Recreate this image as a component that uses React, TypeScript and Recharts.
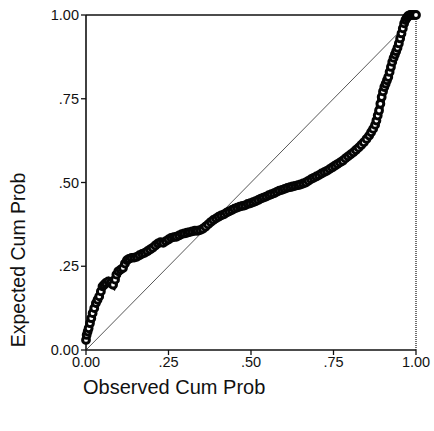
import { ScatterChart, Scatter, XAxis, YAxis, ReferenceLine } from "recharts";

const observed = [
  0.0, 0.002, 0.005, 0.008, 0.012, 0.016, 0.02, 0.025, 0.03, 0.035, 0.04, 0.045, 0.05, 0.055, 0.06, 0.068,
  0.075, 0.082, 0.088, 0.092, 0.098, 0.105, 0.112, 0.118, 0.124, 0.13, 0.138, 0.146, 0.154, 0.162, 0.17,
  0.178, 0.186, 0.194, 0.202, 0.21, 0.218, 0.226, 0.234, 0.242, 0.25, 0.258, 0.266, 0.274, 0.282, 0.29,
  0.298, 0.306, 0.314, 0.322, 0.33, 0.338, 0.346, 0.354, 0.362, 0.37, 0.378, 0.386, 0.394, 0.402, 0.41,
  0.418, 0.426, 0.434, 0.442, 0.45, 0.458, 0.466, 0.474, 0.482, 0.49, 0.498, 0.506, 0.514, 0.522, 0.53,
  0.538, 0.546, 0.554, 0.562, 0.57, 0.578, 0.586, 0.594, 0.602, 0.61, 0.618, 0.626, 0.634, 0.642, 0.65,
  0.658, 0.666, 0.674, 0.682, 0.69, 0.698, 0.706, 0.714, 0.722, 0.73, 0.738, 0.746, 0.754, 0.762, 0.77,
  0.778, 0.786, 0.794, 0.802, 0.81, 0.818, 0.826, 0.834, 0.842, 0.85, 0.858, 0.864, 0.87, 0.876, 0.88,
  0.884, 0.888, 0.892, 0.896, 0.9, 0.904, 0.908, 0.912, 0.916, 0.92, 0.924, 0.928, 0.932, 0.936, 0.94,
  0.944, 0.948, 0.952, 0.956, 0.96, 0.964, 0.968, 0.972, 0.976, 0.982, 0.988, 0.994, 1.0,
];

const expected = [
  0.03, 0.045, 0.055, 0.065, 0.08, 0.095, 0.11, 0.125, 0.14, 0.15, 0.16, 0.175, 0.19, 0.195, 0.2, 0.205,
  0.2, 0.195, 0.21, 0.225, 0.235, 0.24, 0.245, 0.258, 0.268, 0.272, 0.275, 0.276, 0.278, 0.283, 0.287,
  0.29, 0.295, 0.3, 0.305, 0.312, 0.318, 0.322, 0.32, 0.325, 0.33, 0.335, 0.337, 0.338, 0.342, 0.346,
  0.348, 0.35, 0.352, 0.354, 0.356, 0.356, 0.358, 0.362, 0.368, 0.375, 0.382, 0.388, 0.393, 0.398, 0.402,
  0.405, 0.41, 0.414, 0.418, 0.422, 0.425, 0.428, 0.43, 0.432, 0.436, 0.438, 0.441, 0.444, 0.448, 0.452,
  0.455, 0.458, 0.462, 0.465, 0.468, 0.472, 0.476, 0.478, 0.481, 0.484, 0.486, 0.488, 0.49, 0.492, 0.494,
  0.497, 0.5, 0.505, 0.51, 0.514, 0.518, 0.522, 0.527, 0.531, 0.535, 0.54, 0.545, 0.55, 0.555, 0.56,
  0.565, 0.572, 0.578, 0.584, 0.59, 0.597, 0.604, 0.612, 0.62, 0.63, 0.64, 0.65, 0.66, 0.672, 0.685,
  0.7, 0.715, 0.735, 0.755, 0.772, 0.785, 0.795, 0.805, 0.815, 0.83, 0.845, 0.86, 0.872, 0.882, 0.892,
  0.902, 0.915, 0.93, 0.945, 0.96, 0.975, 0.985, 0.992, 0.997, 1.0, 1.0, 1.0, 1.0,
];

const ticks = [0, 0.25, 0.5, 0.75, 1];
const tickLabel = (v: number) => (v === 0 ? "0.00" : v === 1 ? "1.00" : v.toFixed(2).replace(/^0/, ""));

const points = observed.map((x, i) => ({ x, y: expected[i] }));

const font = "'Liberation Sans', Arial, sans-serif";

// open circles, packed so tight they read as a thick speckled band
const OpenDot = (props: any) => (
  <circle cx={props.cx} cy={props.cy} r={3.4} fill="#fff" stroke="#050505" strokeWidth={3} />
);

export default function App() {
  return (
    <div style={{ position: "absolute", left: 0, top: 0, width: 434, height: 431, background: "#fff", fontFamily: font }}>
      <ScatterChart width={434} height={431} margin={{ top: 15, right: 18, bottom: 51, left: 56 }}>
        <XAxis
          type="number"
          dataKey="x"
          domain={[0, 1]}
          ticks={ticks}
          tickFormatter={tickLabel}
          tick={{ fontSize: 14.5, fill: "#111", fontFamily: font }}
          tickSize={5}
          height={30}
          axisLine={{ stroke: "#111", strokeWidth: 1.6 }}
          tickLine={{ stroke: "#111", strokeWidth: 1.3 }}
        />
        <YAxis
          type="number"
          dataKey="y"
          domain={[0, 1]}
          ticks={ticks}
          tickFormatter={tickLabel}
          tick={{ fontSize: 14.5, fill: "#111", fontFamily: font }}
          tickSize={5}
          width={30}
          axisLine={{ stroke: "#111", strokeWidth: 1.6 }}
          tickLine={{ stroke: "#111", strokeWidth: 1.3 }}
        />
        <ReferenceLine y={1} stroke="#111" strokeWidth={1.6} />
        <ReferenceLine x={1} stroke="#222" strokeWidth={1.3} strokeDasharray="1 1" />
        <ReferenceLine
          segment={[
            { x: 0, y: 0 },
            { x: 1, y: 1 },
          ]}
          stroke="#444"
          strokeWidth={0.9}
        />
        <Scatter
          data={points}
          isAnimationActive={false}
          line={{ stroke: "#050505", strokeWidth: 8 }}
          shape={OpenDot}
        />
      </ScatterChart>
      <div style={{ position: "absolute", left: 83, top: 376, fontSize: 20, color: "#111" }}>Observed Cum Prob</div>
      <div
        style={{
          position: "absolute",
          left: 18,
          top: 260,
          fontSize: 19.5,
          color: "#111",
          whiteSpace: "nowrap",
          transform: "translate(-50%, -50%) rotate(-90deg)",
        }}
      >
        Expected Cum Prob
      </div>
    </div>
  );
}
